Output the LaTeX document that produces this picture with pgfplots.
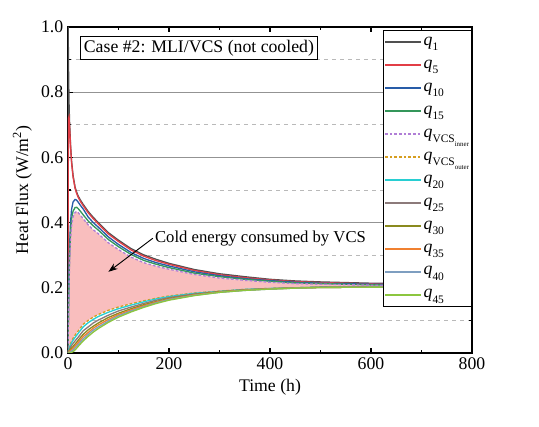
\documentclass[border=0pt]{standalone}
\usepackage{fontspec}
\setmainfont{Liberation Serif}
\usepackage{pgfplots}
\pgfplotsset{compat=1.18}
\usepackage{pgfplotstable}
\usepgfplotslibrary{fillbetween}
\usetikzlibrary{arrows.meta}

\definecolor{cqa}{RGB}{80,80,80}
\definecolor{cqb}{RGB}{226,62,70}
\definecolor{cqc}{RGB}{40,92,168}
\definecolor{cqd}{RGB}{52,150,90}
\definecolor{cin}{RGB}{176,126,214}
\definecolor{cout}{RGB}{214,158,32}
\definecolor{cqe}{RGB}{40,206,210}
\definecolor{cqf}{RGB}{140,122,122}
\definecolor{cqg}{RGB}{138,138,30}
\definecolor{cqh}{RGB}{240,128,48}
\definecolor{cqi}{RGB}{126,158,192}
\definecolor{cqj}{RGB}{140,198,63}
\definecolor{pinkfill}{RGB}{249,190,190}

% legend label: italic q with subscript (and sub-subscript)
\newcommand\qs[1]{\textit{q}\raisebox{-0.3em}{\fontsize{8.6}{9}\selectfont #1}}
\newcommand\qvcs[1]{\textit{q}\raisebox{-0.3em}{\fontsize{8.6}{9}\selectfont VCS\raisebox{-0.3em}{\fontsize{5.2}{6}\selectfont #1}}}

% upper group: q1, q5, q10, q15, VCS inner
\pgfplotstableread{
t    q1    q5    q10   q15   inner
0    0     0     0     0     0
0.3  1.000 0.450 0.050 0.045 0.040
1    0.880 0.720 0.150 0.130 0.110
2    0.770 0.725 0.250 0.220 0.200
3    0.712 0.700 0.320 0.290 0.270
5    0.640 0.635 0.400 0.370 0.350
7    0.590 0.585 0.440 0.410 0.390
10   0.545 0.540 0.463 0.435 0.418
14   0.509 0.505 0.471 0.446 0.431
17   0.494 0.490 0.469 0.447 0.434
20   0.482 0.478 0.463 0.443 0.431
25   0.468 0.464 0.452 0.434 0.422
30   0.456 0.452 0.442 0.424 0.412
40   0.434 0.430 0.417 0.405 0.393
50   0.416 0.412 0.400 0.390 0.378
60   0.400 0.396 0.386 0.377 0.366
80   0.369 0.365 0.356 0.348 0.338
100  0.346 0.342 0.333 0.326 0.317
125  0.320 0.316 0.308 0.302 0.294
150  0.301 0.297 0.290 0.284 0.277
175  0.287 0.283 0.277 0.272 0.266
200  0.275 0.272 0.267 0.262 0.257
250  0.256 0.253 0.249 0.245 0.241
300  0.243 0.240 0.237 0.234 0.230
350  0.234 0.231 0.228 0.226 0.223
400  0.226 0.224 0.222 0.220 0.217
450  0.221 0.219 0.217 0.215 0.213
500  0.218 0.216 0.214 0.213 0.211
600  0.214 0.212 0.211 0.209 0.208
700  0.212 0.210 0.209 0.208 0.207
800  0.211 0.209 0.208 0.207 0.207
}\upptab

% lower group: VCS outer, q20 ... q45
\pgfplotstableread{
t    outer q20   q25   q30   q35   q40   q45
0    0     0     0     0     0     0     0
2    0.014 0.012 0.008 0.006 0.004 0.002 0.000
5    0.029 0.025 0.018 0.012 0.008 0.004 0.001
10   0.045 0.039 0.029 0.020 0.014 0.009 0.004
15   0.057 0.050 0.039 0.029 0.023 0.017 0.011
20   0.067 0.060 0.048 0.039 0.032 0.026 0.020
30   0.088 0.080 0.068 0.057 0.050 0.043 0.037
40   0.100 0.093 0.080 0.071 0.063 0.057 0.051
50   0.110 0.103 0.092 0.082 0.076 0.070 0.064
60   0.118 0.112 0.101 0.092 0.086 0.080 0.075
80   0.131 0.125 0.116 0.109 0.103 0.098 0.094
100  0.141 0.136 0.129 0.122 0.118 0.114 0.110
125  0.151 0.147 0.141 0.136 0.132 0.129 0.126
150  0.160 0.157 0.152 0.148 0.145 0.142 0.140
175  0.168 0.166 0.162 0.158 0.156 0.154 0.152
200  0.175 0.173 0.170 0.167 0.165 0.164 0.162
250  0.184 0.183 0.181 0.179 0.178 0.177 0.176
300  0.190 0.189 0.188 0.188 0.187 0.186 0.186
350  0.195 0.195 0.194 0.193 0.193 0.192 0.192
400  0.198 0.198 0.197 0.197 0.197 0.196 0.196
450  0.200 0.200 0.200 0.199 0.199 0.199 0.199
500  0.202 0.202 0.202 0.201 0.201 0.201 0.201
600  0.203 0.203 0.203 0.202 0.202 0.202 0.202
700  0.204 0.204 0.204 0.203 0.203 0.203 0.203
800  0.205 0.205 0.205 0.204 0.204 0.204 0.204
}\lowtab

\begin{document}
\begin{tikzpicture}
\begin{axis}[
at={(0,0)}, anchor=south west,
scale only axis,
width=303pt, height=244.5pt,
xmin=0, xmax=800, ymin=0, ymax=1,
xtick={0,200,...,800}, minor x tick num=1,
ytick={0,0.2,...,1.0}, minor y tick num=1,
xtick pos=both, ytick pos=both,
tick align=inside,
major tick length=3.75pt, minor tick length=2.2pt,
tick style={black, line width=0.9pt},
axis line style={black, line width=1.3pt},
ymajorgrids, yminorgrids,
major grid style={gray!85, line width=0.6pt},
minor grid style={gray!55, dashed, line width=0.5pt},
font=\fontsize{13.3}{16}\selectfont,
/pgf/number format/assume math mode=true,
yticklabel style={/pgf/number format/.cd, fixed, fixed zerofill, precision=1},
xlabel={Time (h)},
ylabel={Heat Flux (W/m\textsuperscript{2})},
legend cell align=left,
legend image code/.code={\draw[#1, line width=1.4pt] (0pt,0pt) -- (27pt,0pt);},
legend style={at={(1,0.991)}, anchor=north east, draw=black, thin,
  font=\fontsize{13.3}{16}\selectfont, row sep=3pt, inner xsep=0.8pt,
  nodes={inner xsep=1.2pt, inner ysep=0.6pt, text height=9pt, text depth=4pt}},
every axis plot/.append style={line width=1pt},
]
% invisible boundaries of the shaded region
\addplot[draw=none, name path=upp, forget plot] table[x=t, y=inner]{\upptab};
\addplot[draw=none, name path=low, forget plot] table[x=t, y=outer]{\lowtab};
\addplot[fill=pinkfill, draw=none, forget plot] fill between[of=upp and low];

\addplot[cqa] table[x=t, y=q1]{\upptab};
\addlegendentry{\qs{1}}
\addplot[cqb] table[x=t, y=q5]{\upptab};
\addlegendentry{\qs{5}}
\addplot[cqc] table[x=t, y=q10]{\upptab};
\addlegendentry{\qs{10}}
\addplot[cqd] table[x=t, y=q15]{\upptab};
\addlegendentry{\qs{15}}
\addplot[cin, dash pattern=on 2pt off 1.5pt] table[x=t, y=inner]{\upptab};
\addlegendentry{\qvcs{inner}}
\addplot[cout, dash pattern=on 2pt off 1.5pt] table[x=t, y=outer]{\lowtab};
\addlegendentry{\qvcs{outer}}
\addplot[cqe] table[x=t, y=q20]{\lowtab};
\addlegendentry{\qs{20}}
\addplot[cqf] table[x=t, y=q25]{\lowtab};
\addlegendentry{\qs{25}}
\addplot[cqg] table[x=t, y=q30]{\lowtab};
\addlegendentry{\qs{30}}
\addplot[cqh] table[x=t, y=q35]{\lowtab};
\addlegendentry{\qs{35}}
\addplot[cqi] table[x=t, y=q40]{\lowtab};
\addlegendentry{\qs{40}}
\addplot[cqj] table[x=t, y=q45]{\lowtab};
\addlegendentry{\qs{45}}

\draw[-{Stealth[length=7pt, width=5pt]}, line width=0.7pt]
  (axis description cs:0.210,0.352) -- (axis description cs:0.100,0.249);
\node[anchor=west, inner sep=0pt, font=\fontsize{12.5}{14}\selectfont]
  at (axis description cs:0.215,0.35) {Cold energy consumed by VCS};
\node[draw=black, line width=0.7pt, fill=white, anchor=north west,
  inner xsep=2.5pt, inner ysep=2.5pt, font=\fontsize{13.3}{16}\selectfont]
  at (axis description cs:0.03,0.972) {Case \#2: MLI/VCS (not cooled)};
\end{axis}
\pgfresetboundingbox
\useasboundingbox (-51pt,-55.5pt) rectangle (353.25pt,264.75pt);
\end{tikzpicture}
\end{document}
